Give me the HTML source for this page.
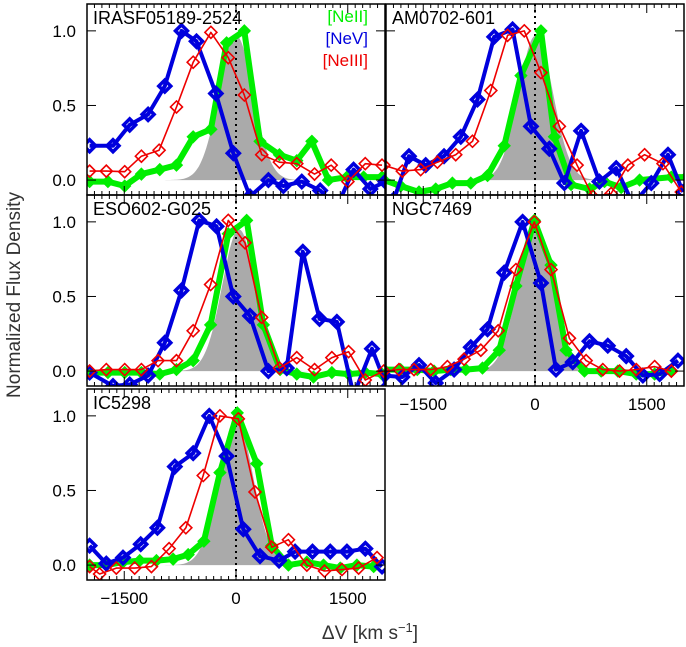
<!DOCTYPE html>
<html><head><meta charset="utf-8"><style>
html,body{margin:0;padding:0;background:#fff}
svg{display:block;font-family:"Liberation Sans",sans-serif}
</style></head><body>
<svg id="chart" width="686" height="647" viewBox="0 0 686 647" xmlns="http://www.w3.org/2000/svg"></svg>
<script>
const panelNames = ["IRASF05189-2524","AM0702-601","ESO602-G025","NGC7469","IC5298"];
const xTicks = [-1500, 0, 1500];
const yTicks = [0.0, 0.5, 1.0];
const yTickLabels = ["0.0","0.5","1.0"];
const xTickLabels = ["−1500","0","1500"];
const gaussPeak = [0.97, 0.97, 0.95, 0.98, 0.98];
const gaussCenter = [0, 10, 40, 0, 0];
const gaussSigma = [230, 230, 225, 230, 230];

// panel 1
const p1BlueV=[-1965,-1651,-1427,-1180,-956,-732,-530,-270,-36,188,435,636,883,1130,1354,1578,1803,2005];
const p1BlueY=[0.23,0.23,0.37,0.44,0.63,1.0,0.93,0.58,0.18,-0.11,0.0,-0.04,-0.01,-0.07,-0.18,0.07,-0.06,-0.01];
const p1RedV=[-1965,-1741,-1494,-1270,-1032,-799,-575,-337,-104,112,345,583,816,1054,1278,1502,1735,1960];
const p1RedY=[0.06,0.06,0.056,0.16,0.2,0.49,0.79,0.99,0.82,0.57,0.17,0.12,0.11,0.04,0.1,-0.01,0.11,0.1];
const p1GreenV=[-1965,-1719,-1494,-1270,-1023,-799,-575,-337,-126,112,322,583,816,1018,1242,1489,1713,1960];
const p1GreenY=[-0.01,-0.01,-0.04,0.04,0.07,0.1,0.29,0.34,0.92,1.0,0.26,0.17,0.13,0.26,0.0,0.02,0.02,0.02];
// panel 2
const p2BlueV=[-1894,-1692,-1467,-1221,-996,-772,-548,-301,-54,192,394,619,865,1090,1314,1561,1785,1987];
const p2BlueY=[-0.13,0.16,0.1,0.16,0.29,0.54,0.96,1.01,0.36,0.21,-0.02,0.33,-0.01,0.08,-0.16,-0.02,0.17,-0.08];
const p2RedV=[-2028,-1781,-1535,-1310,-1064,-839,-593,-368,-144,80,327,565,776,1022,1247,1471,1718,1964];
const p2RedY=[0.1,0.06,0.07,0.12,0.17,0.26,0.6,0.97,1.0,0.72,0.36,0.1,-0.11,-0.09,0.1,0.17,0.11,-0.08];
const p2GreenV=[-2028,-1804,-1557,-1333,-1109,-862,-637,-413,-189,80,260,484,731,933,1157,1404,1830,2031];
const p2GreenY=[0.0,-0.04,-0.08,-0.06,-0.02,-0.02,0.03,0.23,0.7,1.0,0.29,-0.03,-0.06,-0.01,-0.05,0.0,0.02,0.02];
// panel 3
const p3BlueV=[-1965,-1651,-1427,-1180,-956,-732,-494,-261,-36,188,435,681,897,1121,1354,1578,1825,2027];
const p3BlueY=[-0.01,-0.1,-0.09,-0.03,0.19,0.54,1.01,0.97,0.5,0.37,0.0,0.02,0.8,0.35,0.33,-0.16,0.15,-0.11];
const p3RedV=[-1965,-1741,-1494,-1270,-1046,-799,-575,-341,-104,121,345,583,816,1054,1287,1511,1735,1982];
const p3RedY=[0,0.01,0.01,0.01,0.07,0.07,0.27,0.58,1.01,0.86,0.36,0.02,0.09,0.01,0.09,0.13,-0.06,0.0];
const p3GreenV=[-1965,-1719,-1494,-1270,-1023,-799,-575,-341,-104,143,367,592,816,1040,1287,1511,1735,1960];
const p3GreenY=[-0.01,-0.01,-0.01,-0.01,-0.02,0.01,0.07,0.31,0.92,1.01,0.31,0.01,-0.02,-0.04,-0.01,-0.02,-0.01,-0.02];
// panel 4
const p4BlueV=[-2028,-1781,-1557,-1333,-1086,-862,-637,-413,-166,80,282,507,731,977,1224,1448,1673,1919];
const p4BlueY=[-0.03,-0.04,0.04,-0.08,0.01,0.16,0.28,0.66,1.0,0.59,0.01,0.06,0.2,0.17,0.1,-0.03,-0.02,0.07];
const p4RedV=[-2028,-1826,-1624,-1400,-1176,-952,-727,-494,-256,-9,215,462,686,910,1135,1359,1606,1830];
const p4RedY=[0,0.01,0.01,0.01,0.03,0.08,0.14,0.27,0.68,1.0,0.68,0.22,0.07,0.01,0,0.01,0.03,0];
const p4GreenV=[-2028,-1804,-1580,-1355,-1131,-929,-705,-480,-256,-9,215,417,664,888,1112,1359,1606,1830];
const p4GreenY=[0.01,0.01,0.01,0,0.01,0.01,0.02,0.14,0.57,1.01,0.71,0.14,0,0,0,-0.02,-0.02,0];
// panel 5
const p5BlueV=[-1965,-1741,-1517,-1279,-1055,-821,-575,-359,-126,98,322,578,793,1027,1265,1489,1736,1960];
const p5BlueY=[0.13,0.01,0.05,0.14,0.25,0.66,0.75,1.0,0.73,0.24,0.06,0.03,0.09,0.09,0.09,0.09,0.11,-0.01];
const p5RedV=[-1965,-1831,-1607,-1360,-1135,-898,-673,-440,-216,31,255,480,704,951,1188,1422,1646,1893];
const p5RedY=[-0.01,-0.06,-0.02,-0.02,-0.01,0.11,0.25,0.6,1.0,0.98,0.49,0.12,0.17,0,-0.04,-0.03,-0.02,0.05];
const p5GreenV=[-1965,-1741,-1517,-1292,-1068,-844,-642,-431,-216,17,278,480,704,951,1175,1399,1623,1848];
const p5GreenY=[0,0,0.02,0.03,0.03,0.04,0.07,0.16,0.62,1.02,0.68,0.13,0,0.02,0,-0.02,0,-0.01];

const seriesV=[[p1GreenV,p1BlueV,p1RedV],[p2GreenV,p2BlueV,p2RedV],[p3GreenV,p3BlueV,p3RedV],[p4GreenV,p4BlueV,p4RedV],[p5GreenV,p5BlueV,p5RedV]];
const seriesY=[[p1GreenY,p1BlueY,p1RedY],[p2GreenY,p2BlueY,p2RedY],[p3GreenY,p3BlueY,p3RedY],[p4GreenY,p4BlueY,p4RedY],[p5GreenY,p5BlueY,p5RedY]];
const seriesKeys=["neii","nev","neiii"];

const NS="http://www.w3.org/2000/svg";
const svg=document.getElementById("chart");
function mk(tag,attrs,parent){const e=document.createElementNS(NS,tag);for(const k in attrs)e.setAttribute(k,attrs[k]);(parent||svg).appendChild(e);return e;}
const PW=298, PH=191, XMIN=-2000, XMAX=2000, YMIN=-0.1, YMAX=1.18;
const lefts=[87,386,87,386,87], tops=[4,4,195,195,389];
const styles=[{c:"#00ee00",w:6,fill:"#00ee00",ms:6},{c:"#0000dd",w:4,fill:"none",ms:6,sw:3.5},{c:"#ee0000",w:1.6,fill:"none",ms:6,sw:1.6}];

for(let p=0;p<5;p++){
  const L=lefts[p],T=tops[p];
  const sx=v=>L+(v-XMIN)/(XMAX-XMIN)*PW;
  const sy=y=>T+(YMAX-y)/(YMAX-YMIN)*PH;
  const g=mk("g",{});
  
  
  mk("clipPath",{id:"cp"+p},g);
  mk("rect",{x:L,y:T,width:PW,height:PH},document.getElementById("cp"+p));
  const inner=mk("g",{"clip-path":"url(#cp"+p+")"},g);
  // gaussian
  let d="M"+sx(XMIN)+","+sy(0);
  for(let v=XMIN;v<=XMAX;v+=20){const y=gaussPeak[p]*Math.exp(-0.5*Math.pow((v-gaussCenter[p])/gaussSigma[p],2));d+=" L"+sx(v).toFixed(1)+","+sy(y).toFixed(1);}
  d+=" L"+sx(XMAX)+","+sy(0)+" Z";
  const ga=mk("path",{d:d,fill:"#aaaaaa",stroke:"none"},inner);
  
  
  // zero line
  const zl=mk("line",{x1:sx(0),x2:sx(0),y1:T,y2:T+PH,stroke:"#000","stroke-width":2,"stroke-dasharray":"2,4"},inner);
  
  
  for(let s=0;s<3;s++){
    const V=seriesV[p][s],Y=seriesY[p][s],st=styles[s];
    const pts=V.map((v,i)=>sx(v).toFixed(1)+","+sy(Y[i]).toFixed(1)).join(" ");
    const pl=mk("polyline",{points:pts,fill:"none",stroke:st.c,"stroke-width":st.w,"stroke-linejoin":"round"},inner);
    
    
    V.forEach((v,i)=>{
      const x=sx(v),y=sy(Y[i]),m=st.ms;
      const dm=mk("polygon",{points:`${x},${y-m} ${x+m},${y} ${x},${y+m} ${x-m},${y}`,fill:st.fill,stroke:st.c,"stroke-width":st.sw||1},inner);
      
      
    });
  }
  // frame
  const fr=mk("rect",{x:L,y:T,width:PW,height:PH,fill:"none",stroke:"#000","stroke-width":1.5},g);
  
  
  // x minor ticks
  for(let v=-1900;v<=1900;v+=100){
    const major=xTicks.includes(v);
    const len=major?9:4;
    mk("line",{x1:sx(v),x2:sx(v),y1:T+PH,y2:T+PH-len,stroke:"#000","stroke-width":1},g);
    mk("line",{x1:sx(v),x2:sx(v),y1:T,y2:T+len,stroke:"#000","stroke-width":1},g);
  }
  yTicks.forEach(t=>{
    mk("line",{x1:L,x2:L+9,y1:sy(t),y2:sy(t),stroke:"#000","stroke-width":1},g);
    mk("line",{x1:L+PW,x2:L+PW-9,y1:sy(t),y2:sy(t),stroke:"#000","stroke-width":1},g);
  });
  if(L<100){
    yTicks.forEach((t,i)=>{
      const tl=mk("text",{x:L-11,y:sy(t)+6,"font-size":17,"text-anchor":"end",fill:"#000"},g);
      tl.textContent=yTickLabels[i];
      
      
    });
  }
  if(p>=3){
    xTicks.forEach((t,i)=>{
      const tl=mk("text",{x:sx(t),y:T+PH+24,"font-size":17,"text-anchor":"middle",fill:"#000"},g);
      tl.textContent=xTickLabels[i];
      
      
    });
  }
  const nm=mk("text",{x:L+6,y:T+20,"font-size":18,fill:"#000"},g);
  nm.textContent=panelNames[p];
  
  
}
// legend
const legTexts=["[NeII]","[NeV]","[NeIII]"], legColors=["#00ee00","#0000dd","#ee0000"];
legTexts.forEach((t,i)=>{
  const e=mk("text",{x:368,y:22+i*22,"font-size":17,"text-anchor":"end",fill:legColors[i]});
  e.textContent=t;
  
  
});
const yl=mk("text",{x:20,y:295,"font-size":19,"text-anchor":"middle",fill:"#333",transform:"rotate(-90 20 295)"});
yl.textContent="Normalized Flux Density";


const xl=mk("text",{x:370,y:639,"font-size":19,"text-anchor":"middle",fill:"#333"});
xl.innerHTML='ΔV [km s<tspan dy="-7" font-size="13">−1</tspan><tspan dy="7">]</tspan>';


</script>
</body></html>
